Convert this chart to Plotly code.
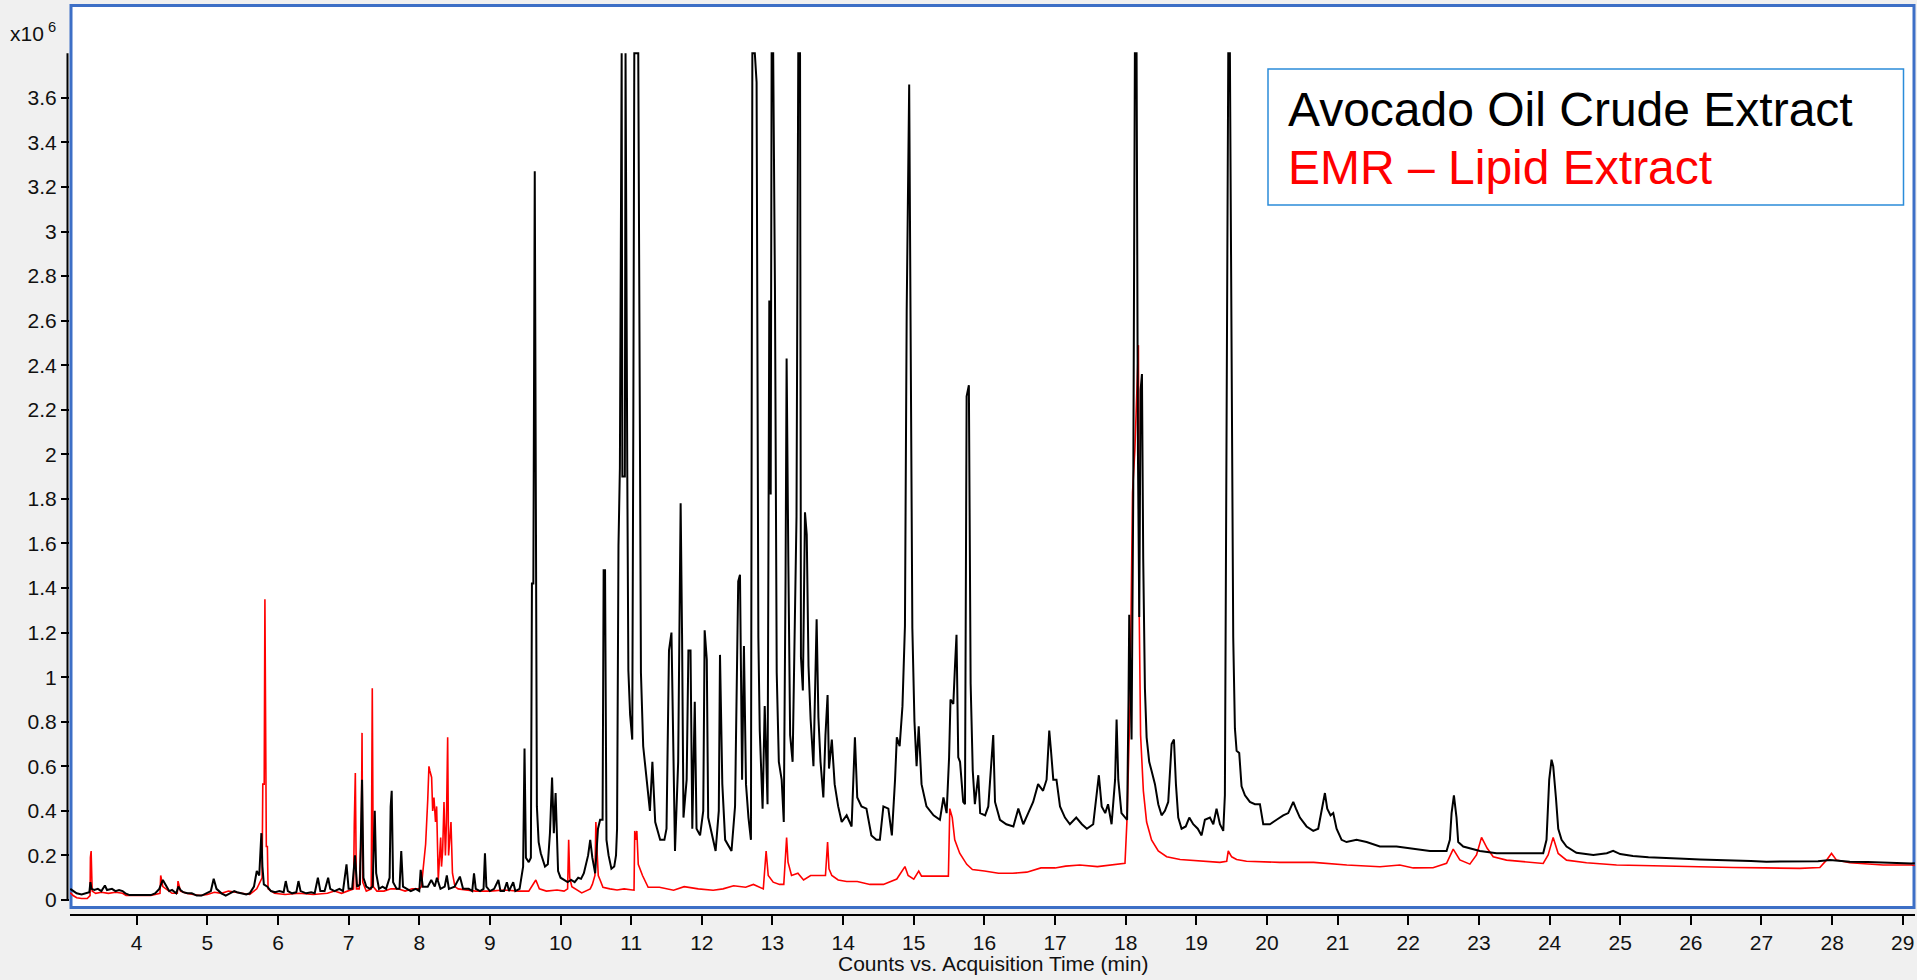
import plotly.graph_objects as go

# ---------------- data (counts in units of 10^6) ----------------
crude_time = [
    3.06, 3.10, 3.15, 3.22, 3.28, 3.33, 3.345, 3.36, 3.40, 3.45, 3.50, 3.55, 3.58, 3.65, 3.70, 3.75, 3.80, 3.84, 3.90,
    4.00, 4.10, 4.20, 4.26, 4.32, 4.37, 4.42, 4.46, 4.50, 4.56, 4.59, 4.62, 4.66, 4.72, 4.78, 4.85, 4.92, 4.98,
    5.05, 5.09, 5.13, 5.20, 5.26, 5.32, 5.38, 5.42, 5.48, 5.55, 5.60, 5.66, 5.70, 5.735, 5.765, 5.78, 5.80, 5.85, 5.90, 5.96,
    6.02, 6.08, 6.11, 6.14, 6.20, 6.26, 6.29, 6.32, 6.40, 6.47, 6.52, 6.565, 6.60, 6.66, 6.71, 6.74, 6.80, 6.87, 6.92, 6.97,
    7.00, 7.05, 7.09, 7.12, 7.16, 7.19, 7.21, 7.25, 7.30, 7.34, 7.37, 7.39, 7.43, 7.48, 7.53, 7.58, 7.595, 7.61, 7.63, 7.68,
    7.72, 7.745, 7.77, 7.82, 7.88, 7.95,
    8.00, 8.02, 8.05, 8.12, 8.17, 8.22, 8.25, 8.30, 8.36, 8.39, 8.42, 8.50, 8.575, 8.62, 8.70, 8.75, 8.775, 8.80, 8.86, 8.91,
    8.93, 8.95, 9.00, 9.06, 9.12, 9.15, 9.20, 9.24, 9.27, 9.33, 9.36, 9.42, 9.47, 9.49, 9.51, 9.55, 9.58, 9.595, 9.615,
    9.635, 9.65, 9.665, 9.69, 9.72, 9.78, 9.82, 9.85, 9.88, 9.905, 9.93, 9.965,
    10.00, 10.05, 10.10, 10.15, 10.20, 10.25, 10.29, 10.33, 10.39, 10.42, 10.45, 10.49, 10.53, 10.56, 10.595, 10.61, 10.63,
    10.65, 10.68, 10.72, 10.76, 10.785, 10.80, 10.82, 10.84, 10.865, 10.875, 10.91, 10.92, 10.945, 10.96, 10.985,
    11.015, 11.03, 11.044, 11.10, 11.115, 11.138, 11.17, 11.195, 11.24, 11.265, 11.30, 11.34, 11.41, 11.47, 11.50, 11.535,
    11.57, 11.60, 11.62, 11.665, 11.70, 11.72, 11.74, 11.785, 11.81, 11.84, 11.865, 11.90, 11.925, 11.975,
    12.02, 12.04, 12.07, 12.09, 12.16, 12.195, 12.24, 12.257, 12.29, 12.33, 12.42, 12.47, 12.515, 12.54, 12.57, 12.596,
    12.625, 12.66, 12.695, 12.715, 12.75, 12.775, 12.80, 12.82, 12.86, 12.89, 12.93, 12.955, 12.975, 12.988,
    13.01, 13.035, 13.06, 13.09, 13.13, 13.16, 13.185, 13.20, 13.225, 13.25, 13.285, 13.32, 13.34, 13.365, 13.39, 13.403,
    13.43, 13.46, 13.485, 13.51, 13.54, 13.58, 13.625, 13.65, 13.68, 13.72, 13.75, 13.78, 13.80, 13.84, 13.88, 13.93, 13.98,
    14.05, 14.12, 14.167, 14.20, 14.26, 14.33, 14.40, 14.47, 14.52, 14.57, 14.64, 14.69, 14.735, 14.76, 14.80, 14.84,
    14.875, 14.90, 14.935, 14.955, 14.98,
    15.01, 15.04, 15.07, 15.11, 15.18, 15.28, 15.37, 15.42, 15.465, 15.50, 15.52, 15.56, 15.585, 15.605, 15.63, 15.655,
    15.70, 15.725, 15.748, 15.78, 15.805, 15.835, 15.865, 15.913, 15.94,
    16.01, 16.055, 16.125, 16.15, 16.22, 16.31, 16.41, 16.48, 16.55, 16.62, 16.69, 16.76, 16.83, 16.88, 16.918, 16.94, 16.975,
    17.02, 17.07, 17.14, 17.21, 17.30, 17.38, 17.45, 17.54, 17.62, 17.66, 17.71, 17.75, 17.80, 17.85, 17.871, 17.895, 17.94, 17.99,
    18.02, 18.04, 18.05, 18.083, 18.107, 18.13, 18.154, 18.173, 18.192, 18.211, 18.23, 18.248, 18.272, 18.296, 18.333,
    18.366, 18.414, 18.461, 18.508, 18.555, 18.602, 18.65, 18.683, 18.711, 18.744, 18.791, 18.85, 18.90, 18.956,
    19.02, 19.074, 19.121, 19.192, 19.24, 19.286, 19.334, 19.381, 19.404, 19.428, 19.452, 19.475, 19.499, 19.522, 19.546,
    19.57, 19.607, 19.64, 19.688, 19.758, 19.829, 19.90, 19.947,
    20.041, 20.136, 20.23, 20.301, 20.372, 20.41, 20.466, 20.56, 20.655, 20.725, 20.787, 20.82, 20.853, 20.90, 20.938, 20.985,
    21.056, 21.126, 21.268, 21.41, 21.598, 21.834, 22.07, 22.306, 22.542, 22.589, 22.613, 22.646, 22.683, 22.707, 22.778,
    23.014, 23.25, 23.486, 23.721, 23.91, 23.957, 23.995, 24.028, 24.052, 24.09, 24.123, 24.17, 24.24, 24.38, 24.62, 24.81,
    24.90, 25.00, 25.18, 25.40, 25.66, 25.90, 26.13, 26.40, 26.60, 26.85, 27.07, 27.30, 27.54, 27.80, 27.97, 28.10, 28.25,
    28.50, 28.72, 28.95, 29.12, 29.17,
]
crude_counts = [
    0.050, 0.040, 0.030, 0.025, 0.030, 0.035, 0.080, 0.050, 0.045, 0.050, 0.040, 0.065, 0.045, 0.050, 0.040, 0.045, 0.040, 0.030, 0.022,
    0.022, 0.022, 0.022, 0.030, 0.050, 0.090, 0.060, 0.040, 0.045, 0.030, 0.060, 0.045, 0.035, 0.030, 0.030, 0.020, 0.020, 0.030,
    0.040, 0.095, 0.050, 0.030, 0.020, 0.030, 0.040, 0.035, 0.030, 0.025, 0.030, 0.060, 0.130, 0.110, 0.300, 0.150, 0.070, 0.060, 0.040, 0.035,
    0.040, 0.035, 0.085, 0.040, 0.030, 0.035, 0.085, 0.040, 0.030, 0.035, 0.030, 0.100, 0.040, 0.040, 0.100, 0.050, 0.040, 0.050, 0.040, 0.160,
    0.050, 0.050, 0.200, 0.060, 0.070, 0.540, 0.100, 0.060, 0.050, 0.060, 0.400, 0.120, 0.050, 0.060, 0.050, 0.100, 0.420, 0.490, 0.080, 0.050,
    0.050, 0.220, 0.060, 0.050, 0.040, 0.050,
    0.040, 0.135, 0.060, 0.060, 0.090, 0.060, 0.100, 0.050, 0.060, 0.110, 0.050, 0.060, 0.105, 0.050, 0.050, 0.040, 0.120, 0.050, 0.040, 0.050,
    0.210, 0.060, 0.040, 0.050, 0.090, 0.040, 0.040, 0.080, 0.040, 0.080, 0.040, 0.050, 0.150, 0.680, 0.190, 0.170, 0.190, 1.420, 1.420,
    3.270, 1.160, 0.420, 0.260, 0.210, 0.150, 0.160, 0.300, 0.550, 0.300, 0.480, 0.130,
    0.100, 0.090, 0.080, 0.090, 0.080, 0.100, 0.095, 0.120, 0.200, 0.270, 0.190, 0.120, 0.320, 0.360, 0.360, 1.480, 1.480,
    0.270, 0.200, 0.140, 0.150, 0.200, 0.320, 1.590, 1.940, 3.800, 1.900, 1.900, 3.800, 1.900, 1.030, 0.830,
    0.720, 2.140, 3.800, 3.800, 2.440, 1.020, 0.690, 0.620, 0.470, 0.400, 0.620, 0.350, 0.270, 0.270, 0.320, 1.120,
    1.200, 0.500, 0.220, 0.620, 1.780, 1.190, 0.370, 0.540, 1.120, 1.120, 0.320, 0.890, 0.320, 0.290,
    0.400, 1.210, 1.080, 0.370, 0.270, 0.220, 0.400, 1.100, 0.520, 0.270, 0.220, 0.420, 1.430, 1.460, 0.540, 1.140,
    0.520, 0.370, 0.270, 3.800, 3.800, 3.670, 1.180, 0.760, 0.410, 0.870, 0.430, 2.690, 1.820, 3.800,
    3.800, 2.740, 1.020, 0.620, 0.540, 0.350, 1.440, 2.430, 1.500, 0.740, 0.620, 1.390, 1.720, 3.800, 3.800, 1.090,
    0.940, 1.740, 1.640, 1.050, 0.810, 0.600, 1.260, 0.820, 0.620, 0.460, 0.740, 0.920, 0.590, 0.720, 0.520, 0.420, 0.350,
    0.380, 0.330, 0.730, 0.460, 0.420, 0.410, 0.290, 0.270, 0.270, 0.420, 0.410, 0.290, 0.540, 0.730, 0.690, 0.870,
    1.230, 2.650, 3.660, 2.680, 1.220,
    0.800, 0.600, 0.780, 0.520, 0.420, 0.380, 0.360, 0.460, 0.390, 0.640, 0.900, 0.880, 1.060, 1.190, 0.640, 0.620,
    0.440, 0.430, 2.260, 2.310, 0.970, 0.580, 0.430, 0.560, 0.390,
    0.380, 0.420, 0.740, 0.440, 0.360, 0.340, 0.330, 0.410, 0.340, 0.390, 0.440, 0.520, 0.490, 0.540, 0.760, 0.680, 0.540,
    0.540, 0.420, 0.370, 0.340, 0.370, 0.340, 0.320, 0.340, 0.560, 0.420, 0.390, 0.430, 0.340, 0.540, 0.810, 0.540, 0.390, 0.370,
    0.360, 0.900, 1.280, 0.720, 1.830, 3.800, 3.800, 2.020, 1.270, 2.290, 2.360, 1.530, 0.950, 0.730, 0.620,
    0.580, 0.520, 0.430, 0.380, 0.400, 0.440, 0.700, 0.720, 0.520, 0.370, 0.320, 0.330, 0.370, 0.340,
    0.320, 0.290, 0.360, 0.370, 0.340, 0.410, 0.340, 0.310, 0.470, 2.240, 3.800, 3.800, 2.610, 1.180, 0.770,
    0.670, 0.660, 0.510, 0.470, 0.440, 0.430, 0.430, 0.340,
    0.340, 0.360, 0.380, 0.390, 0.440, 0.410, 0.370, 0.330, 0.310, 0.320, 0.420, 0.480, 0.410, 0.380, 0.390, 0.320,
    0.270, 0.260, 0.270, 0.260, 0.240, 0.240, 0.230, 0.220, 0.220, 0.270, 0.390, 0.470, 0.370, 0.260, 0.240,
    0.220, 0.210, 0.210, 0.210, 0.210, 0.270, 0.540, 0.630, 0.600, 0.460, 0.320, 0.270, 0.240, 0.212, 0.202, 0.210,
    0.221, 0.206, 0.197, 0.192, 0.187, 0.185, 0.182, 0.180, 0.179, 0.175, 0.172, 0.173, 0.172, 0.174, 0.179, 0.175, 0.172,
    0.170, 0.167, 0.166, 0.164, 0.165,
]

emr_time = [
    3.06, 3.10, 3.15, 3.22, 3.30, 3.34, 3.345, 3.355, 3.37, 3.42, 3.50, 3.60, 3.70, 3.80, 3.85,
    4.00, 4.20, 4.33, 4.34, 4.37, 4.45, 4.50, 4.575, 4.585, 4.62, 4.70, 4.80, 4.90,
    5.00, 5.10, 5.20, 5.30, 5.40, 5.50, 5.60, 5.70, 5.775, 5.785, 5.805, 5.815, 5.825, 5.835, 5.85, 5.86, 5.95,
    6.10, 6.30, 6.50, 6.70, 6.80, 6.90,
    7.00, 7.07, 7.08, 7.095, 7.11, 7.15, 7.18, 7.19, 7.20, 7.25, 7.32, 7.335, 7.35, 7.40, 7.50, 7.60, 7.70, 7.80, 7.90,
    8.00, 8.03, 8.06, 8.09, 8.12, 8.137, 8.15, 8.175, 8.19, 8.208, 8.23, 8.246, 8.269, 8.29, 8.303, 8.315, 8.331, 8.35,
    8.37, 8.385, 8.402, 8.415, 8.425, 8.449, 8.47, 8.505, 8.55, 8.65, 8.80,
    9.00, 9.20, 9.40, 9.55, 9.65, 9.70, 9.80, 9.95,
    10.05, 10.10, 10.115, 10.13, 10.16, 10.25, 10.30, 10.42, 10.45, 10.487, 10.50, 10.52, 10.534, 10.56, 10.60, 10.70, 10.80, 10.90,
    11.00, 11.04, 11.05, 11.065, 11.08, 11.10, 11.16, 11.24, 11.40, 11.60, 11.75, 11.95,
    12.16, 12.30, 12.45, 12.62, 12.73, 12.87, 12.91, 12.94,
    13.01, 13.10, 13.16, 13.20, 13.22, 13.27, 13.36, 13.44, 13.54, 13.60, 13.75, 13.78, 13.80, 13.84, 13.93,
    14.05, 14.20, 14.38, 14.57, 14.76, 14.875, 14.92,
    15.00, 15.07, 15.11, 15.20, 15.37, 15.49, 15.51, 15.545, 15.58, 15.65, 15.75, 15.83,
    16.00, 16.20, 16.40, 16.60, 16.80, 17.00, 17.15, 17.35, 17.60, 17.80, 17.99,
    18.02, 18.04, 18.06, 18.097, 18.13, 18.18, 18.192, 18.211, 18.25, 18.296, 18.366, 18.461, 18.58, 18.77,
    19.05, 19.334, 19.43, 19.452, 19.50, 19.57, 19.71, 20.18, 20.66, 21.13, 21.60, 21.88,
    22.07, 22.35, 22.542, 22.636, 22.73, 22.872, 22.966, 23.037, 23.117, 23.202, 23.391, 23.674, 23.91, 23.98,
    24.051, 24.122, 24.24, 24.523, 24.948, 25.30, 25.655, 26.10, 26.60, 27.05, 27.543, 27.826, 27.92, 27.991,
    28.062, 28.25, 28.722, 29.123, 29.17,
]
emr_counts = [
    0.033, 0.020, 0.010, 0.007, 0.007, 0.020, 0.190, 0.220, 0.040, 0.030, 0.035, 0.030, 0.035, 0.030, 0.020,
    0.020, 0.020, 0.030, 0.110, 0.060, 0.040, 0.030, 0.030, 0.085, 0.040, 0.030, 0.025, 0.020,
    0.025, 0.035, 0.030, 0.040, 0.035, 0.030, 0.025, 0.050, 0.100, 0.520, 0.520, 1.350, 0.300, 0.240, 0.240, 0.050, 0.030,
    0.025, 0.030, 0.025, 0.030, 0.040, 0.030,
    0.040, 0.050, 0.340, 0.570, 0.050, 0.050, 0.300, 0.750, 0.080, 0.040, 0.050, 0.950, 0.060, 0.040, 0.040, 0.050, 0.050, 0.040, 0.050,
    0.050, 0.060, 0.150, 0.250, 0.450, 0.600, 0.580, 0.550, 0.400, 0.460, 0.350, 0.420, 0.090, 0.200, 0.280, 0.150, 0.220, 0.440,
    0.200, 0.350, 0.730, 0.200, 0.240, 0.350, 0.120, 0.060, 0.050, 0.045, 0.040,
    0.040, 0.045, 0.040, 0.040, 0.090, 0.050, 0.040, 0.045,
    0.040, 0.050, 0.270, 0.100, 0.060, 0.040, 0.032, 0.050, 0.070, 0.110, 0.350, 0.200, 0.110, 0.090, 0.057, 0.050, 0.045, 0.050,
    0.045, 0.044, 0.310, 0.270, 0.310, 0.160, 0.110, 0.057, 0.057, 0.044, 0.060, 0.050,
    0.044, 0.050, 0.064, 0.057, 0.070, 0.050, 0.220, 0.110,
    0.080, 0.070, 0.070, 0.280, 0.170, 0.110, 0.120, 0.090, 0.110, 0.110, 0.110, 0.260, 0.140, 0.110, 0.090,
    0.083, 0.083, 0.070, 0.070, 0.094, 0.150, 0.110,
    0.094, 0.130, 0.107, 0.107, 0.107, 0.107, 0.410, 0.370, 0.270, 0.210, 0.160, 0.137,
    0.130, 0.120, 0.120, 0.125, 0.144, 0.144, 0.152, 0.157, 0.150, 0.157, 0.165,
    0.370, 0.570, 0.870, 1.830, 2.020, 2.490, 1.270, 0.740, 0.490, 0.350, 0.270, 0.220, 0.194, 0.182,
    0.174, 0.169, 0.174, 0.220, 0.194, 0.182, 0.174, 0.169, 0.169, 0.157, 0.149, 0.157,
    0.144, 0.145, 0.165, 0.228, 0.180, 0.161, 0.202, 0.281, 0.232, 0.194, 0.179, 0.172, 0.164, 0.202,
    0.281, 0.209, 0.179, 0.167, 0.157, 0.155, 0.152, 0.149, 0.146, 0.144, 0.142, 0.146, 0.179, 0.209,
    0.179, 0.167, 0.157, 0.157, 0.155,
]

series_names = ["Avocado Oil Crude Extract", "EMR \u2013 Lipid Extract"]
y_tick_values = [0, 0.2, 0.4, 0.6, 0.8, 1, 1.2, 1.4, 1.6, 1.8, 2, 2.2, 2.4, 2.6, 2.8, 3, 3.2, 3.4, 3.6]
y_tick_labels = ["0", "0.2", "0.4", "0.6", "0.8", "1", "1.2", "1.4", "1.6", "1.8", "2",
                 "2.2", "2.4", "2.6", "2.8", "3", "3.2", "3.4", "3.6"]
x_tick_values = list(range(4, 30))
x_axis_title = "Counts vs. Acquisition Time (min)"
y_scale_label = "x10<sup> 6</sup>"
y_axis_top = 3.8

# ---------------- layout geometry ----------------
W, H = 1917, 980
L, R, T, B = 70, 2, 5, 66
PW = W - L - R
PH = H - T - B
X_RANGE = [3.056, 29.173]
Y_RANGE = [-0.0628, 4.0165]


def paper_x(px):
    return (px - L) / PW


def paper_y(py):
    return (H - B - py) / PH


def value_to_paper_y(v):
    return (v - Y_RANGE[0]) / (Y_RANGE[1] - Y_RANGE[0])


BG = "#f0f0f0"
PLOT_BORDER = "#3d6fc6"
LEGEND_BORDER = "#2b8cd9"
TICK_FONT = dict(family="Liberation Sans Narrow, Liberation Sans, Arial, sans-serif", size=21, color="#111111")

fig = go.Figure()
fig.add_trace(go.Scatter(
    x=emr_time, y=emr_counts, mode="lines", name=series_names[1],
    line=dict(color="#ff0000", width=1.6), hoverinfo="skip", showlegend=False,
))
fig.add_trace(go.Scatter(
    x=crude_time, y=crude_counts, mode="lines", name=series_names[0],
    line=dict(color="#000000", width=2.0), hoverinfo="skip", showlegend=False,
))

shapes = [
    # white chart panel with blue frame
    dict(type="rect", xref="paper", yref="paper",
         x0=paper_x(71), x1=paper_x(1914), y0=paper_y(907.5), y1=paper_y(5.5),
         fillcolor="white", line=dict(color=PLOT_BORDER, width=3), layer="below"),
    # y axis line (only spans 0 .. top of scale)
    dict(type="line", xref="paper", yref="paper",
         x0=paper_x(67.5), x1=paper_x(67.5),
         y0=value_to_paper_y(0), y1=value_to_paper_y(y_axis_top),
         line=dict(color="black", width=2), layer="above"),
    # legend box
    dict(type="rect", xref="paper", yref="paper",
         x0=paper_x(1268), x1=paper_x(1903.5), y0=paper_y(205), y1=paper_y(69),
         fillcolor="rgba(255,255,255,0)", line=dict(color=LEGEND_BORDER, width=1.5), layer="above"),
]

annotations = [
    dict(text=series_names[0], xref="paper", yref="paper", x=paper_x(1286), y=paper_y(110),
         xanchor="left", yanchor="middle", showarrow=False,
         font=dict(family="Liberation Sans, Arial, sans-serif", size=48, color="#000000")),
    dict(text=series_names[1], xref="paper", yref="paper", x=paper_x(1286), y=paper_y(167.5),
         xanchor="left", yanchor="middle", showarrow=False,
         font=dict(family="Liberation Sans, Arial, sans-serif", size=48, color="#ff0000")),
    dict(text=y_scale_label, xref="paper", yref="paper", x=paper_x(8), y=paper_y(32),
         xanchor="left", yanchor="middle", showarrow=False, font=TICK_FONT),
    dict(text=x_axis_title, xref="paper", yref="paper", x=0.5, y=paper_y(963),
         xanchor="center", yanchor="middle", showarrow=False, font=TICK_FONT),
]

fig.update_layout(
    width=W, height=H,
    margin=dict(l=L, r=R, t=T, b=B, pad=0),
    paper_bgcolor=BG, plot_bgcolor=BG,
    shapes=shapes, annotations=annotations,
    showlegend=False,
    xaxis=dict(range=X_RANGE, tickmode="array", tickvals=x_tick_values,
               ticks="outside", ticklen=9, tickwidth=1.5, tickcolor="black",
               showline=True, linecolor="black", linewidth=2,
               showgrid=False, zeroline=False, tickfont=TICK_FONT, fixedrange=True),
    yaxis=dict(range=Y_RANGE, tickmode="array", tickvals=y_tick_values, ticktext=y_tick_labels,
               ticks="outside", ticklen=8, tickwidth=1.5, tickcolor="black",
               showline=False, showgrid=False, zeroline=False, tickfont=TICK_FONT, fixedrange=True),
)

fig.write_html("out.html", config={"displayModeBar": False})
